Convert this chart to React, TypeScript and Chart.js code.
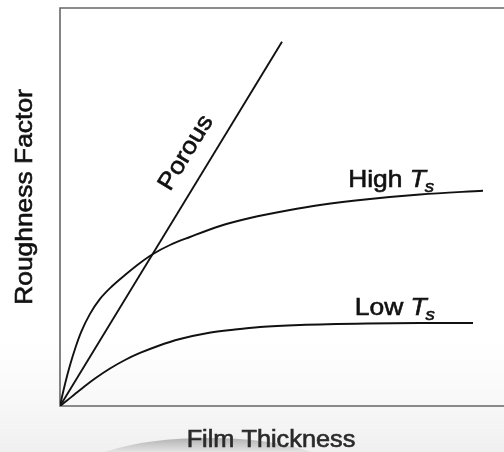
import React, { useEffect, useRef } from "react";
import { Chart, registerables } from "chart.js";

Chart.register(...registerables);

// Film thickness (arbitrary units, 0–100) and roughness factor (0–100)
const porousX = [0, 50];
const porousY = [0, 91.5];

const highTsX = [0, 0.45, 1.13, 2.25, 3.6, 4.73, 6.76, 9.01, 11.71, 14.64, 18.02, 20.95, 24.77, 29.28, 36.04, 42.79, 51.8, 58.56, 69.82, 81.08, 95.27];
const highTsY = [0, 2.31, 5.55, 10.25, 15.08, 18.52, 23.14, 26.91, 30.08, 32.91, 35.93, 38.19, 40.45, 42.46, 45.23, 47.24, 49.25, 50.5, 52.01, 53.14, 54.1];

const lowTsX = [0, 1.58, 3.38, 5.63, 7.88, 11.26, 14.64, 18.02, 22.07, 27.03, 33.33, 39.41, 45.05, 54.05, 69.14, 81.08, 93.02];
const lowTsY = [0, 1.38, 3.02, 5.03, 6.91, 9.42, 11.56, 13.32, 15.08, 16.83, 18.34, 19.22, 19.85, 20.35, 20.73, 20.85, 20.85];

const xTitle = "Film Thickness";
const yTitle = "Roughness Factor";
const porousLabel = "Porous";
const highLabel = "High";
const lowLabel = "Low";

const FONT = "'Liberation Sans', Arial, Helvetica, sans-serif";
const STRETCH = 1.1;

const toPoints = (xs: number[], ys: number[]) => xs.map((x, i) => ({ x, y: ys[i] }));

function paintText(ctx: CanvasRenderingContext2D, text: string, x: number, y: number) {
  ctx.fillText(text, x, y);
  ctx.strokeText(text, x, y);
}

function stretchedText(ctx: CanvasRenderingContext2D, text: string, x: number, y: number, align: CanvasTextAlign) {
  ctx.save();
  ctx.translate(x, y);
  ctx.scale(STRETCH, 1);
  ctx.textAlign = align;
  ctx.textBaseline = "alphabetic";
  paintText(ctx, text, 0, 0);
  ctx.restore();
}

// "<prefix> T_s" with italic T and subscript s
function drawTsLabel(ctx: CanvasRenderingContext2D, prefix: string, x: number, y: number) {
  ctx.save();
  ctx.translate(x, y);
  ctx.scale(STRETCH, 1);
  ctx.textBaseline = "alphabetic";
  ctx.textAlign = "left";
  ctx.font = `24px ${FONT}`;
  const p = prefix + " ";
  paintText(ctx, p, 0, 0);
  let cx = ctx.measureText(p).width;
  ctx.font = `italic 24px ${FONT}`;
  paintText(ctx, "T", cx, 0);
  cx += ctx.measureText("T").width - 1;
  ctx.font = `italic 17px ${FONT}`;
  paintText(ctx, "s", cx, 5);
  ctx.restore();
}

const decorPlugin = {
  id: "decor",
  beforeDraw(chart: any) {
    const { ctx, chartArea, width, height } = chart;
    ctx.save();
    // soft grey wash toward the bottom of the figure
    const g = ctx.createLinearGradient(0, 340, 0, height);
    g.addColorStop(0, "rgba(244,244,244,0)");
    g.addColorStop(1, "rgba(240,240,240,1)");
    ctx.fillStyle = g;
    ctx.fillRect(0, 340, width, height - 340);
    // grey dome under the x title
    ctx.beginPath();
    ctx.ellipse(208, 482, 142, 44, 0, 0, Math.PI * 2);
    const e = ctx.createLinearGradient(0, 438, 0, height);
    e.addColorStop(0, "rgba(178,178,178,1)");
    e.addColorStop(1, "rgba(228,228,228,1)");
    ctx.fillStyle = e;
    ctx.fill();
    // frame: top, left, bottom (open on the right)
    ctx.strokeStyle = "#666";
    ctx.lineWidth = 1.6;
    ctx.beginPath();
    ctx.moveTo(width + 2, chartArea.top);
    ctx.lineTo(chartArea.left, chartArea.top);
    ctx.lineTo(chartArea.left, chartArea.bottom);
    ctx.lineTo(width + 2, chartArea.bottom);
    ctx.stroke();
    ctx.restore();
  },
  afterDraw(chart: any) {
    const { ctx, chartArea, scales } = chart;
    const xs = scales.x;
    const ys = scales.y;
    ctx.save();
    ctx.lineWidth = 0.6;

    // axis titles
    ctx.font = `23px ${FONT}`;
    ctx.fillStyle = "#2a2a2a";
    ctx.strokeStyle = "#2a2a2a";
    stretchedText(ctx, xTitle, chartArea.left + 211, chartArea.bottom + 41, "center");

    ctx.fillStyle = "#111";
    ctx.strokeStyle = "#111";
    ctx.save();
    ctx.translate(32, 197);
    ctx.rotate(-Math.PI / 2);
    ctx.font = `24px ${FONT}`;
    stretchedText(ctx, yTitle, 0, 0, "center");
    ctx.restore();

    // "Porous" along its line
    const px0 = xs.getPixelForValue(porousX[0]);
    const py0 = ys.getPixelForValue(porousY[0]);
    const px1 = xs.getPixelForValue(porousX[1]);
    const py1 = ys.getPixelForValue(porousY[1]);
    const ang = Math.atan2(py1 - py0, px1 - px0);
    ctx.save();
    ctx.translate(xs.getPixelForValue(28.4), ys.getPixelForValue(63.6));
    ctx.rotate(ang);
    ctx.font = `24px ${FONT}`;
    ctx.textBaseline = "middle";
    ctx.textAlign = "center";
    ctx.scale(STRETCH, 1);
    paintText(ctx, porousLabel, 0, 0);
    ctx.restore();

    drawTsLabel(ctx, highLabel, xs.getPixelForValue(64.9), ys.getPixelForValue(55.0));
    drawTsLabel(ctx, lowLabel, xs.getPixelForValue(66.4), ys.getPixelForValue(22.9));
    ctx.restore();
  },
};

export default function App() {
  const ref = useRef<HTMLCanvasElement>(null);

  useEffect(() => {
    document.body.style.margin = "0";
    const line = {
      borderColor: "#111",
      borderWidth: 1.9,
      pointRadius: 0,
      fill: false,
    };
    const chart = new Chart(ref.current!, {
      type: "line",
      data: {
        datasets: [
          { ...line, label: porousLabel, data: toPoints(porousX, porousY), tension: 0 },
          { ...line, label: "High Ts", data: toPoints(highTsX, highTsY), cubicInterpolationMode: "monotone" },
          { ...line, label: "Low Ts", data: toPoints(lowTsX, lowTsY), cubicInterpolationMode: "monotone" },
        ],
      },
      options: {
        animation: false,
        responsive: false,
        layout: { padding: { left: 60, top: 8, right: 0, bottom: 46 } },
        scales: {
          x: { type: "linear", min: 0, max: 100, display: false },
          y: { type: "linear", min: 0, max: 100, display: false },
        },
        plugins: {
          legend: { display: false },
          tooltip: { enabled: false },
        },
      },
      plugins: [decorPlugin],
    } as any);
    return () => chart.destroy();
  }, []);

  return (
    <div style={{ position: "absolute", left: 0, top: 0, width: 504, height: 452 }}>
      <canvas ref={ref} width={504} height={452} style={{ display: "block" }} />
    </div>
  );
}
